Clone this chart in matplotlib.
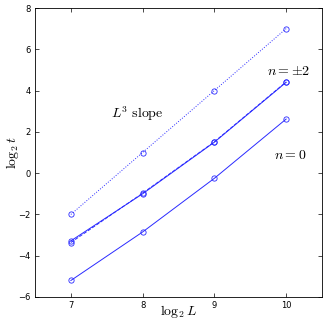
import matplotlib
matplotlib.use("Agg")
import matplotlib.pyplot as plt

logL = [7, 8, 9, 10]
slope_ref = [-2, 1, 4, 7]
n_pm2_a = [-3.28, -1.0, 1.5, 4.4]
n_pm2_b = [-3.36, -0.97, 1.52, 4.42]
n_0 = [-5.2, -2.85, -0.25, 2.62]
xticks = [7, 8, 9, 10]
yticks = [-6, -4, -2, 0, 2, 4, 6, 8]

plt.rcParams['mathtext.fontset'] = 'cm'
fig = plt.figure(figsize=(3.27, 3.21), dpi=100)
ax = fig.add_axes([35/327, 1-297/321, (322-35)/327, (297-8)/321])

blue = '#2a2aff'
kw = dict(color=blue, lw=0.7, marker='o', ms=3.8, mfc='none', mew=0.6)
ax.plot(logL, slope_ref, ':', **kw)
ax.plot(logL, n_pm2_a, '-', **kw)
ax.plot(logL, n_pm2_b, '--', **kw)
ax.plot(logL, n_0, '-', **kw)

ax.set_xlim(6.5, 10.5)
ax.set_ylim(-6, 8)
ax.set_xticks(xticks)
ax.set_yticks(yticks)
ax.tick_params(direction='in', top=True, right=True, labelsize=6, length=3, width=0.5, pad=3)
for s in ax.spines.values():
    s.set_linewidth(0.6)

ax.text(7.93, 2.9, r'$L^3\ \mathrm{slope}$', fontsize=10, ha='center', va='center')
ax.text(10.03, 4.95, r'$n = \pm 2$', fontsize=10, ha='center', va='center')
ax.text(10.05, 0.9, r'$n = 0$', fontsize=10, ha='center', va='center')

ax.set_xlabel(r'$\log_2 L$', fontsize=10)
ax.set_ylabel(r'$\log_2 t$', fontsize=10)
ax.xaxis.set_label_coords(0.5, -0.022)
ax.yaxis.set_label_coords(-0.05, 0.5)

for lab in ax.get_xticklabels() + ax.get_yticklabels():
    lab.set_family('DejaVu Sans')

fig.savefig('out.png', dpi=100)
